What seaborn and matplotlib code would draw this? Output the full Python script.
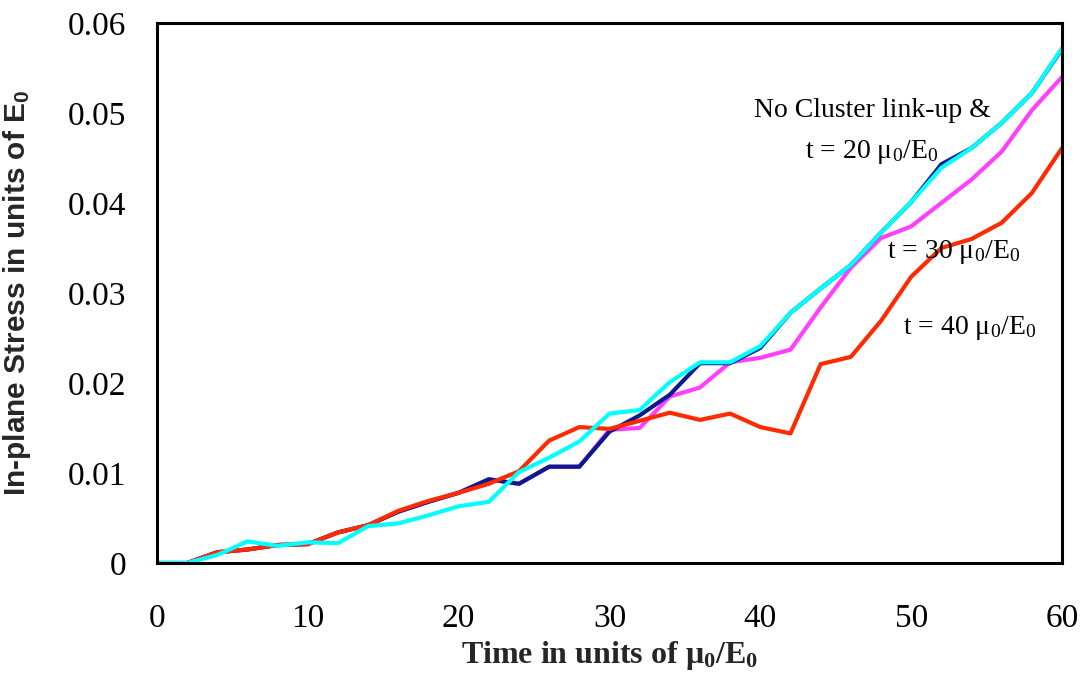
import matplotlib
matplotlib.use('Agg')
import matplotlib.pyplot as plt
import seaborn as sns
import pandas as pd
import numpy as np

# time axis, in units of mu0/E0
time = list(range(0, 62, 2))

# in-plane stress, in units of E0
no_link = [0, 0, 0.0012, 0.0015, 0.0020, 0.0021, 0.0034, 0.0042, 0.0057, 0.0068,
           0.0078, 0.0093, 0.0088, 0.0107, 0.0107, 0.0146, 0.0164, 0.0187, 0.0222, 0.0222,
           0.0239, 0.0278, 0.0305, 0.0331, 0.0367, 0.0401, 0.0443, 0.0461, 0.0489, 0.0522, 0.0571]
t20 = [0, 0, 0.0009, 0.0024, 0.0019, 0.0023, 0.0022, 0.0041, 0.0044, 0.0053,
       0.0063, 0.0068, 0.0101, 0.0117, 0.0135, 0.0166, 0.0170, 0.0201, 0.0223, 0.0223,
       0.0241, 0.0278, 0.0305, 0.0331, 0.0367, 0.0401, 0.0439, 0.0461, 0.0489, 0.0522, 0.0572]
t30 = [0, 0, 0.0012, 0.0015, 0.0020, 0.0021, 0.0034, 0.0042, 0.0057, 0.0068,
       0.0078, 0.0093, 0.0088, 0.0107, 0.0107, 0.0148, 0.0150, 0.0185, 0.0195, 0.0223,
       0.0228, 0.0237, 0.0284, 0.0328, 0.0361, 0.0374, 0.0400, 0.0426, 0.0457, 0.0503, 0.0540]
t40 = [0, 0, 0.0012, 0.0015, 0.0020, 0.0021, 0.0034, 0.0042, 0.0058, 0.0069,
       0.0078, 0.0088, 0.0102, 0.0136, 0.0151, 0.0149, 0.0158, 0.0167, 0.0159, 0.0166,
       0.0151, 0.0144, 0.0221, 0.0229, 0.0269, 0.0318, 0.0350, 0.0360, 0.0378, 0.0411, 0.0461]

df = pd.DataFrame({'time': time, 'no_link': no_link, 't20': t20, 't30': t30, 't40': t40})

sns.set_style('white')
plt.rcParams['font.family'] = ['Liberation Serif', 'DejaVu Serif']
plt.rcParams['mathtext.fontset'] = 'custom'

fig = plt.figure(figsize=(10.85, 6.84), dpi=100)
ax = fig.add_axes([0.1447, 0.1769, 0.8341, 0.7895])

# drawing order: magenta under navy, red, cyan on top
sns.lineplot(data=df, x='time', y='t30', color='#FF40FF', linewidth=3.0, ax=ax)
sns.lineplot(data=df, x='time', y='no_link', color='#0A1A8C', linewidth=3.0, ax=ax)
sns.lineplot(data=df, x='time', y='t40', color='#FF2A00', linewidth=3.0, ax=ax)
sns.lineplot(data=df, x='time', y='t20', color='#00FFFF', linewidth=3.0, ax=ax)

ax.set_xlim(0, 60)
ax.set_ylim(0, 0.06)
ax.set_xticks(range(0, 61, 10))
ax.set_yticks([0, 0.01, 0.02, 0.03, 0.04, 0.05, 0.06])
ax.set_yticklabels(['0', '0.01', '0.02', '0.03', '0.04', '0.05', '0.06'])

for s in ax.spines.values():
    s.set_linewidth(2.2)
    s.set_color('black')
ax.tick_params(direction='in', length=9, width=2, labelsize=24, colors='black')
ax.tick_params(axis='x', pad=29)
ax.tick_params(axis='y', pad=22)

ax.set_xlabel(r'Time in units of μ$\mathregular{_0}$/E$\mathregular{_0}$',
              fontsize=23, fontweight='bold', family=['Liberation Serif', 'DejaVu Serif'])
ax.xaxis.set_label_coords(0.5, -0.14)
ax.set_ylabel(r'In-plane Stress in units of E$\mathregular{_0}$', fontsize=21.5, fontweight='bold',
              family=['Liberation Sans Narrow', 'Liberation Sans', 'DejaVu Sans'])
ax.yaxis.set_label_coords(-0.137, 0.5)

ann = dict(fontsize=20, ha='center', va='center', color='black')
ax.text(47.4, 0.0503, 'No Cluster link-up &', **ann)
ax.text(47.4, 0.0457, r't = 20 μ$\mathregular{_0}$/E$\mathregular{_0}$', **ann)
ax.text(52.8, 0.0346, r't = 30 μ$\mathregular{_0}$/E$\mathregular{_0}$', **ann)
ax.text(53.9, 0.0261, r't = 40 μ$\mathregular{_0}$/E$\mathregular{_0}$', **ann)

fig.savefig('out.png', dpi=100)
